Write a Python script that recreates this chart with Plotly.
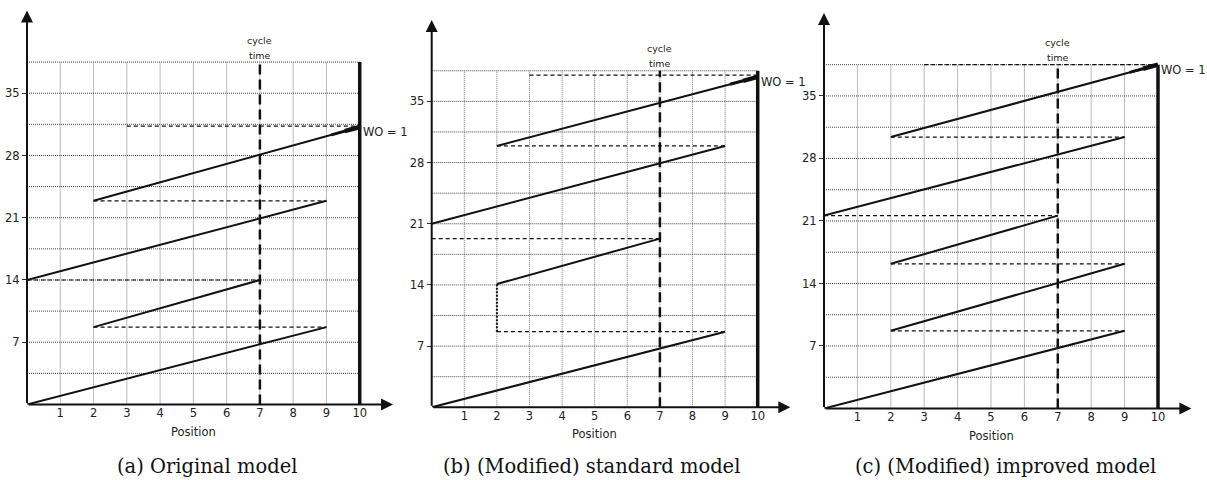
import plotly.graph_objects as go

# ---------------- data ----------------
positions = [1, 2, 3, 4, 5, 6, 7, 8, 9, 10]
position_labels = [str(p) for p in positions]
time_ticks = [7, 14, 21, 28, 35]
grid_step = 3.5
grid_top = 38.5
cycle_time_position = 7
last_position = 10
x_axis_end = 11
y_axis_end = 44.3

captions = ["(a) Original model", "(b) (Modified) standard model", "(c) (Modified) improved model"]

# (a) Original model: solid moves (start pos, start time) -> (end pos, end time)
a_move_x0 = [0, 2, 0, 2]
a_move_t0 = [0, 8.7, 14, 22.9]
a_move_x1 = [9, 7, 9, 10]
a_move_t1 = [8.7, 14, 22.9, 31.2]
a_wait_x0 = [2, 0, 2, 3]
a_wait_x1 = [9, 7, 9, 10]
a_wait_t = [8.7, 14, 22.9, 31.3]
a_jump_x, a_jump_t0, a_jump_t1 = [], [], []

# (b) (Modified) standard model
b_move_x0 = [0, 2, 0, 2]
b_move_t0 = [0, 14.1, 21.0, 29.9]
b_move_x1 = [9, 7, 9, 10]
b_move_t1 = [8.65, 19.3, 29.9, 37.8]
b_wait_x0 = [2, 0, 2, 3]
b_wait_x1 = [9, 7, 9, 10]
b_wait_t = [8.65, 19.3, 29.9, 38.0]
b_jump_x, b_jump_t0, b_jump_t1 = [2], [8.65], [14.1]

# (c) (Modified) improved model
c_move_x0 = [0, 2, 2, 0, 2]
c_move_t0 = [0, 8.7, 16.2, 21.6, 30.4]
c_move_x1 = [9, 9, 7, 9, 10]
c_move_t1 = [8.7, 16.2, 21.6, 30.4, 38.5]
c_wait_x0 = [2, 2, 0, 2, 3]
c_wait_x1 = [9, 9, 7, 9, 10]
c_wait_t = [8.7, 16.2, 21.6, 30.4, 38.5]
c_jump_x, c_jump_t0, c_jump_t1 = [], [], []

panels = [
    (a_move_x0, a_move_t0, a_move_x1, a_move_t1, a_wait_x0, a_wait_x1, a_wait_t, a_jump_x, a_jump_t0, a_jump_t1),
    (b_move_x0, b_move_t0, b_move_x1, b_move_t1, b_wait_x0, b_wait_x1, b_wait_t, b_jump_x, b_jump_t0, b_jump_t1),
    (c_move_x0, c_move_t0, c_move_x1, c_move_t1, c_wait_x0, c_wait_x1, c_wait_t, c_jump_x, c_jump_t0, c_jump_t1),
]

# ---------------- layout (pixel boxes of each panel, in window pixels) ----------------
W, H = 1207, 480
boxes = [  # left, right, bottom, top (window pixels)
    (27, 393, 404.5, 10.5),
    (431.7, 790.3, 407.3, 20.1),
    (824, 1191.4, 408.5, 12.9),
]
caption_centers = [206.5, 591.6, 1005]
caption_y = 466

SANS = "DejaVu Sans"
SERIF = "DejaVu Serif"
INK = "#111"

fig = go.Figure()
layout = dict(
    width=W, height=H, margin=dict(l=0, r=0, t=0, b=0),
    paper_bgcolor="white", plot_bgcolor="white", showlegend=False,
)
annotations = []

grid_levels = [grid_step * k for k in range(1, int(round(grid_top / grid_step)) + 1)]


def seg_xy(x0s, y0s, x1s, y1s):
    xs, ys = [], []
    for a, b, c, d in zip(x0s, y0s, x1s, y1s):
        xs += [a, c, None]
        ys += [b, d, None]
    return xs, ys


def px(v):
    return v / W


def py(v):
    return 1 - v / H


for i, (box, data) in enumerate(zip(boxes, panels)):
    mx0, mt0, mx1, mt1, wx0, wx1, wt, jx, jt0, jt1 = data
    n = "" if i == 0 else str(i + 1)
    xa, ya = "x" + n, "y" + n
    l, r, b, t = box
    layout["xaxis" + n] = dict(
        domain=[px(l), px(r)], range=[0, x_axis_end], anchor=ya,
        showgrid=False, zeroline=False, showline=False,
        tickmode="array", tickvals=positions, ticktext=position_labels,
        ticks="", tickfont=dict(family=SANS, size=11.5, color="#222"),
        fixedrange=True,
    )
    layout["yaxis" + n] = dict(
        domain=[py(b), py(t)], range=[0, y_axis_end], anchor=xa,
        showgrid=False, zeroline=False, showline=False,
        tickmode="array", tickvals=time_ticks, ticktext=[str(v) for v in time_ticks],
        ticks="outside", ticklen=4, tickcolor="#333", tickwidth=1,
        tickfont=dict(family=SANS, size=11.5, color="#222"),
        fixedrange=True,
    )

    # grid: vertical lines
    gx, gy = seg_xy(positions[:-1], [0] * 9, positions[:-1], [grid_top] * 9)
    fig.add_trace(go.Scatter(x=gx, y=gy, mode="lines", xaxis=xa, yaxis=ya,
                             line=dict(color="#777", width=1, dash="1px,1px"), hoverinfo="skip"))
    # grid: horizontal lines
    hx, hy = seg_xy([0] * len(grid_levels), grid_levels, [last_position] * len(grid_levels), grid_levels)
    fig.add_trace(go.Scatter(x=hx, y=hy, mode="lines", xaxis=xa, yaxis=ya,
                             line=dict(color="#444", width=1, dash="1px,1px"), hoverinfo="skip"))

    # waiting (dashed horizontal) lines
    dx, dy = seg_xy(wx0, wt, wx1, wt)
    fig.add_trace(go.Scatter(x=dx, y=dy, mode="lines", xaxis=xa, yaxis=ya,
                             line=dict(color=INK, width=1.2, dash="4px,3px"), hoverinfo="skip"))
    # dotted jump lines
    if jx:
        jxx, jyy = seg_xy(jx, jt0, jx, jt1)
        fig.add_trace(go.Scatter(x=jxx, y=jyy, mode="lines", xaxis=xa, yaxis=ya,
                                 line=dict(color=INK, width=2, dash="2px,1.5px"), hoverinfo="skip"))

    # cycle-time line
    fig.add_trace(go.Scatter(x=[cycle_time_position, cycle_time_position], y=[0, grid_top],
                             mode="lines", xaxis=xa, yaxis=ya,
                             line=dict(color=INK, width=2.5, dash="10px,5px"), hoverinfo="skip"))
    # end-of-line boundary
    fig.add_trace(go.Scatter(x=[last_position, last_position], y=[0, grid_top],
                             mode="lines", xaxis=xa, yaxis=ya,
                             line=dict(color=INK, width=3.5), hoverinfo="skip"))

    # solid movement lines
    sx, sy = seg_xy(mx0, mt0, mx1, mt1)
    fig.add_trace(go.Scatter(x=sx, y=sy, mode="lines", xaxis=xa, yaxis=ya,
                             line=dict(color=INK, width=2), hoverinfo="skip"))

    # thick tip of the last movement (work order finishes)
    x0, y0, x1, y1 = mx0[-1], mt0[-1], mx1[-1], mt1[-1]
    slope = (y1 - y0) / (x1 - x0)
    tip_x = [x1 - 0.85, x1 - 0.45, x1]
    tip_y = [y1 - slope * 0.85, y1 - slope * 0.45, y1]
    fig.add_trace(go.Scatter(x=tip_x[:2], y=tip_y[:2], mode="lines", xaxis=xa, yaxis=ya,
                             line=dict(color=INK, width=3), hoverinfo="skip"))
    fig.add_trace(go.Scatter(x=tip_x[1:], y=tip_y[1:], mode="lines", xaxis=xa, yaxis=ya,
                             line=dict(color=INK, width=4.5), hoverinfo="skip"))

    # axes with arrows
    annotations.append(dict(x=x_axis_end, y=0, ax=0, ay=0, xref=xa, yref=ya, axref=xa, ayref=ya,
                            text="", showarrow=True, arrowhead=2, arrowsize=1.2, arrowwidth=2,
                            arrowcolor=INK, standoff=0, startstandoff=0))
    annotations.append(dict(x=0, y=y_axis_end, ax=0, ay=0, xref=xa, yref=ya, axref=xa, ayref=ya,
                            text="", showarrow=True, arrowhead=2, arrowsize=1.2, arrowwidth=2,
                            arrowcolor=INK, standoff=0, startstandoff=0))

    # labels
    annotations.append(dict(x=cycle_time_position, y=grid_top, xref=xa, yref=ya, text="cycle",
                            showarrow=False, yshift=22, font=dict(family=SANS, size=9.5, color="#222")))
    annotations.append(dict(x=cycle_time_position, y=grid_top, xref=xa, yref=ya, text="time",
                            showarrow=False, yshift=7, font=dict(family=SANS, size=9.5, color="#222")))
    annotations.append(dict(x=last_position, y=y1, xref=xa, yref=ya, text="WO = 1",
                            showarrow=False, xanchor="left", xshift=1, yshift=-5,
                            font=dict(family=SANS, size=11.5, color="#222")))
    annotations.append(dict(x=5, y=0, xref=xa, yref=ya, text="Position",
                            showarrow=False, yshift=-27, font=dict(family=SANS, size=11.5, color="#222")))
    annotations.append(dict(x=px(caption_centers[i]), y=py(caption_y), xref="paper", yref="paper",
                            text=captions[i], showarrow=False, xanchor="center", yanchor="middle",
                            font=dict(family=SERIF, size=19.5, color="#111")))

layout["annotations"] = annotations
fig.update_layout(**layout)
fig.write_html(
    "out.html",
    config={"displayModeBar": False, "staticPlot": True},
    post_script="document.body.style.margin='0';document.body.style.overflow='hidden';",
)
